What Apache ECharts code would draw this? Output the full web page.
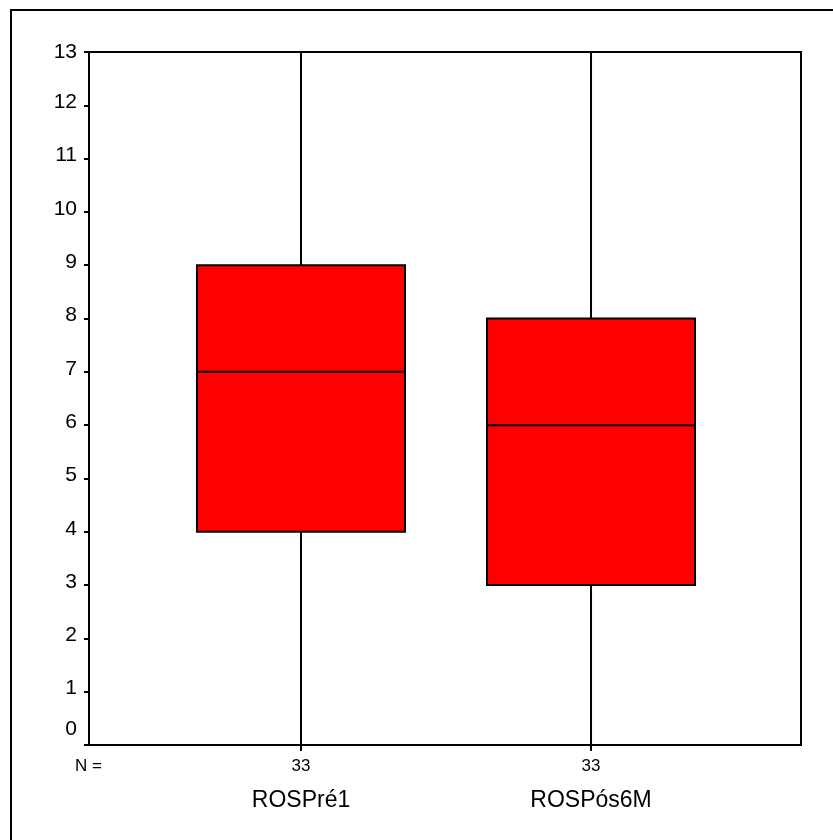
<!DOCTYPE html>
<html>
<head>
<meta charset="utf-8">
<title>ROS boxplot</title>
<script src="https://cdn.jsdelivr.net/npm/echarts@6/dist/echarts.min.js"></script>
<style>
  html, body { margin: 0; padding: 0; background: #fff; }
  #chart { width: 833px; height: 840px; }
</style>
</head>
<body>
<div id="chart"></div>
<script>
// Groups and their sample sizes
const categories = ['ROSPré1', 'ROSPós6M'];
const counts = [33, 33];

// Five-number summaries per group
const minimums = [0, 0];
const lowerQuartiles = [4, 3];
const medians = [7, 6];
const upperQuartiles = [9, 8];
const maximums = [13, 13];

// Value axis range
const yMin = 0;
const yMax = 13;
const yStep = 1;

const FONT = '"Liberation Sans", Arial, sans-serif';

// Each boxplot item: [position, min, Q1, median, Q3, max]
const boxData = categories.map((_, i) => [
  i, minimums[i], lowerQuartiles[i], medians[i], upperQuartiles[i], maximums[i]
]);

const chart = echarts.init(document.getElementById('chart'), null, { renderer: 'canvas' });

chart.setOption({
  backgroundColor: '#ffffff',
  animation: false,
  textStyle: { fontFamily: FONT, color: '#000' },
  graphic: [
    {
      type: 'rect',
      shape: { x: 11, y: 10, width: 900, height: 900 },
      style: { fill: 'none', stroke: '#000', lineWidth: 2 },
      silent: true
    },
    {
      type: 'text',
      left: 75,
      top: 758,
      style: { text: 'N =', fontSize: 17, fontFamily: FONT, fill: '#000' },
      silent: true
    }
  ],
  grid: {
    left: 89, top: 52, width: 712, height: 693,
    show: true, borderColor: '#000', borderWidth: 2, backgroundColor: 'transparent'
  },
  xAxis: {
    type: 'value',
    min: -0.731,
    max: 1.724,
    splitLine: { show: false },
    axisLine: { show: true, onZero: false, lineStyle: { color: '#000', width: 2 } },
    axisTick: {
      show: true, inside: false, length: 6, customValues: [0, 1],
      lineStyle: { color: '#000', width: 2 }
    },
    axisLabel: {
      show: true,
      customValues: [0, 1],
      margin: 10,
      formatter: v => {
        const i = Math.round(v);
        return '{n|' + counts[i] + '}\n{c|' + categories[i] + '}';
      },
      rich: {
        n: { fontSize: 17, lineHeight: 22, fontFamily: FONT, color: '#000' },
        c: { fontSize: 23, lineHeight: 48, fontFamily: FONT, color: '#000' }
      }
    }
  },
  yAxis: {
    type: 'value',
    min: yMin,
    max: yMax,
    interval: yStep,
    splitLine: { show: false },
    axisLine: { show: true, onZero: false, lineStyle: { color: '#000', width: 2 } },
    axisTick: { show: true, inside: false, length: 5, lineStyle: { color: '#000', width: 2 } },
    axisLabel: {
      margin: 12,
      fontSize: 21,
      color: '#000',
      formatter: v => {
        if (v === yMin) return '{z|' + v + '}';
        if (v === yMax) return '{t|' + v + '}';
        return '{a|' + v + '}';
      },
      rich: {
        z: { fontSize: 21, fontFamily: FONT, color: '#000', padding: [0, 0, 32, 0] },
        t: { fontSize: 21, fontFamily: FONT, color: '#000' },
        a: { fontSize: 21, fontFamily: FONT, color: '#000', padding: [0, 0, 6, 0] }
      }
    }
  },
  series: [{
    type: 'boxplot',
    data: boxData,
    boxWidth: [208, 208],
    itemStyle: { color: '#ff0000', borderColor: '#000', borderWidth: 2 },
    emphasis: { disabled: true },
    silent: true
  }]
});
</script>
</body>
</html>
